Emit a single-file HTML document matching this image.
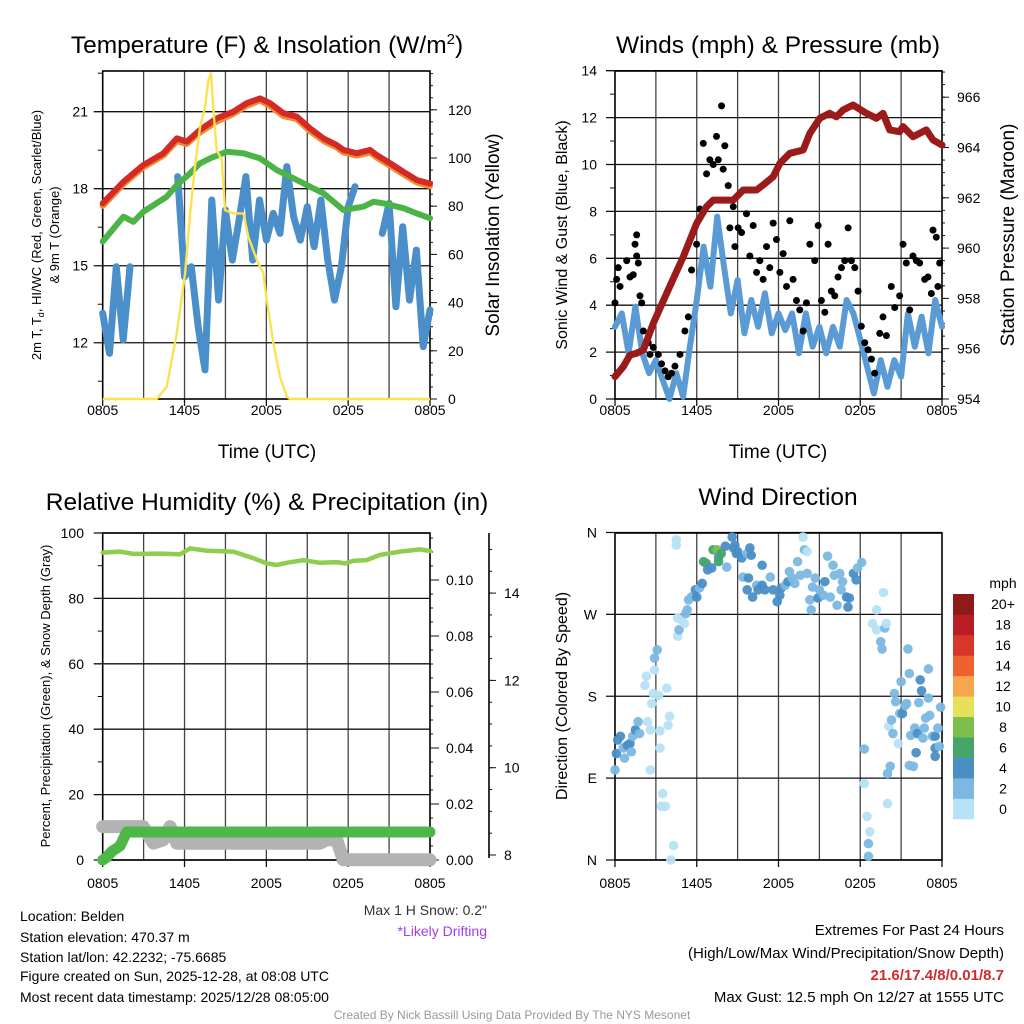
<!DOCTYPE html>
<html><head><meta charset="utf-8"><title>Mesonet Station Meteogram</title>
<style>
html,body{margin:0;padding:0;background:#fff;}
svg{display:block;font-family:"Liberation Sans",Arial,sans-serif;}
</style></head>
<body>
<svg id="c" width="1024" height="1024" viewBox="0 0 1024 1024" xmlns="http://www.w3.org/2000/svg">
<rect x="0" y="0" width="1024" height="1024" fill="#fff"/>
<g id="layers"></g>
<!-- Titles -->
<text x="267" y="53" font-size="24.5" text-anchor="middle">Temperature (F) &amp; Insolation (W/m<tspan font-size="15" dy="-9">2</tspan><tspan dy="9">)</tspan></text>
<text x="778" y="53" font-size="24.5" text-anchor="middle">Winds (mph) &amp; Pressure (mb)</text>
<text x="267" y="510" font-size="24.5" text-anchor="middle">Relative Humidity (%) &amp; Precipitation (in)</text>
<text x="778" y="505" font-size="24.5" text-anchor="middle">Wind Direction</text>
<!-- axis titles -->
<text transform="translate(41,235) rotate(-90)" font-size="13" text-anchor="middle">2m T, T<tspan font-size="9" dy="3">d</tspan><tspan dy="-3">, HI/WC (Red, Green, Scarlet/Blue)</tspan></text>
<text transform="translate(59,235) rotate(-90)" font-size="13" text-anchor="middle">&amp; 9m T (Orange)</text>
<text transform="translate(499,235) rotate(-90)" font-size="19" text-anchor="middle">Solar Insolation (Yellow)</text>
<text transform="translate(567,235) rotate(-90)" font-size="16" text-anchor="middle">Sonic Wind &amp; Gust (Blue, Black)</text>
<text transform="translate(1014,235) rotate(-90)" font-size="19" text-anchor="middle">Station Pressure (Maroon)</text>
<text transform="translate(50,696) rotate(-90)" font-size="13" text-anchor="middle">Percent, Precipitation (Green), &amp; Snow Depth (Gray)</text>
<text transform="translate(567,696) rotate(-90)" font-size="16" text-anchor="middle">Direction (Colored By Speed)</text>
<text x="267" y="458" font-size="19" text-anchor="middle">Time (UTC)</text>
<text x="778" y="458" font-size="19" text-anchor="middle">Time (UTC)</text>
<text x="1003" y="588" font-size="14" text-anchor="middle">mph</text>
<!-- bottom info -->
<text x="487" y="915" font-size="14" text-anchor="end" fill="#333">Max 1 H Snow: 0.2"</text>
<text x="487" y="936" font-size="14" text-anchor="end" fill="#a33cf0">*Likely Drifting</text>
<g font-size="14">
<text x="20" y="921">Location: Belden</text>
<text x="20" y="942">Station elevation: 470.37 m</text>
<text x="20" y="962">Station lat/lon: 42.2232; -75.6685</text>
<text x="20" y="981">Figure created on Sun, 2025-12-28, at 08:08 UTC</text>
<text x="20" y="1002">Most recent data timestamp: 2025/12/28 08:05:00</text>
</g>
<g font-size="15" text-anchor="end">
<text x="1004" y="935">Extremes For Past 24 Hours</text>
<text x="1004" y="958">(High/Low/Max Wind/Precipitation/Snow Depth)</text>
<text x="1004" y="980" font-weight="bold" fill="#d22b2b">21.6/17.4/8/0.01/8.7</text>
<text x="1004" y="1002">Max Gust: 12.5 mph On 12/27 at 1555 UTC</text>
</g>
<text x="512" y="1019" font-size="12" fill="#999" text-anchor="middle">Created By Nick Bassill Using Data Provided By The NYS Mesonet</text>
</svg>
<script>
// ---------- DATA ----------
const timeTickHours = [0, 6, 12, 18, 24];
const timeTickLabels = ["0805", "1405", "2005", "0205", "0805"];
const gridHours = [3, 6, 9, 12, 15, 18, 21];

const tempHours = [0,1.52,2.98,4.45,5.43,6.16,7.14,8.36,9.58,10.56,11.54,12.27,13.25,14.23,15.2,16.19,17.16,17.65,18.63,19.6,20.1,21.08,22.05,23.03,24];
const tempValues = [17.43,18.27,18.92,19.38,19.96,19.83,20.29,20.74,21.0,21.33,21.52,21.33,20.94,20.81,20.35,19.96,19.70,19.51,19.38,19.51,19.31,18.99,18.66,18.34,18.2];
const temp9mValues = [17.33,18.17,18.83,19.29,19.85,19.74,20.19,20.62,20.91,21.23,21.44,21.22,20.83,20.71,20.24,19.86,19.61,19.41,19.29,19.41,19.21,18.89,18.56,18.24,18.1];
const dewHours = [0,1.52,2.25,2.98,4.69,5.43,6.41,7.14,7.87,9.09,10.32,11.54,12.76,13.74,15.2,16.19,17.65,19.11,19.85,20.59,22.05,23.03,24];
const dewValues = [15.94,16.91,16.71,17.1,17.69,18.14,18.6,18.99,19.18,19.44,19.38,19.18,18.73,18.47,18.08,17.82,17.17,17.30,17.49,17.43,17.24,17.04,16.85];
const chillHours = [0,0.5,1,1.5,2,2.5,3,3.5,4,4.5,5,5.5,6,6.5,7,7.5,8,8.5,9,9.5,10,10.5,11,11.5,12,12.5,13,13.5,14,14.5,15,15.5,16,16.5,17,17.5,18,18.5,19,19.5,20,20.5,21,21.5,22,22.5,23,23.5,24];
const chillValues = [13.15,11.59,14.96,12.11,14.96,null,17.56,null,null,null,null,18.47,14.57,14.96,12.62,10.94,17.56,13.66,17.17,15.22,16.78,18.47,15.22,17.56,16.0,17.04,16.26,18.86,16.91,16.0,17.3,15.74,17.56,15.22,13.66,14.96,17.3,18.08,null,null,null,16.26,17.43,13.4,16.52,13.66,15.61,11.85,13.28];
const solarHours = [0,3.96,4.69,5.43,6.04,6.41,6.77,7.14,7.51,7.75,7.95,8.12,8.36,8.73,8.97,9.58,10.32,10.68,11.3,11.78,12.03,12.52,13.0,13.5,13.74,24];
const solarValues = [0,0,5.1,27.3,52.1,77,96.4,113,121.3,132.4,135.1,119.9,103.3,99.2,78.4,77,77,67.3,57.7,52.1,41.1,23.1,9.3,1,0,0];
const tempTicks = [12, 15, 18, 21];
const solarTicks = [0, 20, 40, 60, 80, 100, 120];

const presHours = [0,0.61,1.1,1.59,2.08,2.81,3.79,5.01,5.99,6.72,7.21,8.68,9.41,10.39,10.87,11.61,12.1,12.83,13.81,14.3,15.03,15.76,16.25,16.74,17.47,18.45,19.18,19.67,20.16,20.89,21.14,21.87,22.85,23.34,24];
const presValues = [954.89,955.29,955.75,955.82,955.95,957.01,958.2,959.66,960.98,961.65,961.91,961.91,962.31,962.31,962.51,962.84,963.37,963.77,963.9,964.56,965.16,965.36,965.22,965.49,965.69,965.36,965.16,965.36,964.7,964.63,964.83,964.43,964.7,964.3,964.1];
const windHours = [0,0.5,1,1.5,2,2.5,3,3.5,4,4.5,5,5.5,6,6.5,7,7.5,8,8.5,9,9.5,10,10.5,11,11.5,12,12.5,13,13.5,14,14.5,15,15.5,16,16.5,17,17.5,18,18.5,19,19.5,20,20.5,21,21.5,22,22.5,23,23.5,24];
const windValues = [3.08,3.65,1.95,3.94,1.95,1.1,1.66,0.81,0,1.1,0.1,2.23,4.22,6.5,4.79,7.78,5.64,3.65,5.07,2.8,4.22,3.08,4.51,2.8,3.65,2.94,3.65,1.95,3.65,2.23,3.08,1.95,3.08,2.23,4.22,3.65,2.52,1.38,0.24,1.66,0.52,1.66,0.95,3.65,2.23,3.51,1.95,4.22,3.08];
const gustHours = [0,0.12,0.24,0.37,0.86,1.1,1.34,1.47,1.59,1.59,1.71,1.83,1.96,2.08,2.44,2.57,2.81,3.18,3.42,3.67,3.91,4.15,4.4,4.77,5.13,5.38,5.62,5.74,5.99,6.23,6.48,6.72,6.96,7.21,7.45,7.58,7.82,7.94,8.06,8.31,8.43,8.68,8.8,9.04,9.29,9.65,9.9,10.14,10.39,10.63,10.87,11.12,11.36,11.61,11.85,12.1,12.34,12.59,12.83,13.07,13.32,13.56,13.81,14.05,14.3,14.66,14.91,15.15,15.4,15.64,15.88,16.13,16.37,16.62,16.86,17.11,17.35,17.6,17.84,18.08,18.33,18.57,18.82,19.06,19.43,19.67,19.92,20.28,20.53,20.89,21.14,21.38,21.63,21.87,22.12,22.36,22.73,22.97,23.22,23.34,23.58,23.7,23.83];
const gustValues = [4.1,5.1,5.6,4.8,5.9,5.2,5.3,6.6,6.1,7.0,5.8,4.4,4.1,2.9,2.4,1.9,2.2,1.9,1.5,1.2,0.95,1.1,1.4,1.9,2.9,3.5,5.5,7.1,6.6,8.1,10.9,9.6,10.2,10.0,11.2,10.2,12.5,9.8,10.8,9.1,7.3,8.2,6.5,7.3,7.1,7.9,6.1,7.4,5.4,5.9,5.1,6.5,5.6,7.5,6.8,5.4,6.2,4.8,7.6,5.1,4.2,3.8,2.9,4.1,6.6,5.9,7.4,4.2,3.7,6.6,4.6,4.4,5.2,5.6,5.9,7.3,5.9,5.6,4.6,3.1,2.4,2.1,1.7,1.1,2.8,3.5,2.7,4.8,3.9,4.4,6.6,5.8,3.8,6.1,5.9,5.8,5.1,5.2,4.5,7.2,6.9,4.8,5.8];
const windTicks = [0, 2, 4, 6, 8, 10, 12, 14];
const presTicks = [954, 956, 958, 960, 962, 964, 966];

const rhHours = [0,1.27,2.25,4.2,5.67,6.4,7.62,9.58,11.05,12.02,12.76,13.49,14.71,15.93,17.16,17.77,18.38,19.35,20.33,21.8,23.27,24];
const rhValues = [94.0,94.3,93.6,93.7,93.5,95.3,94.6,94.3,92.3,90.7,90.2,90.9,91.7,90.9,91.1,90.7,91.5,91.7,93.3,94.3,95.0,94.5];
const precipHours = [0,0.29,0.66,1.27,1.76,24];
const precipValues = [0,0.001,0.003,0.005,0.01,0.01];
const snowHours = [0,2.98,3.71,4.45,4.94,5.43,15.93,16.42,17.16,17.64,24];
const snowValues = [8.65,8.65,8.27,8.35,8.65,8.27,8.27,8.35,8.35,7.89,7.89];
const rhTicks = [0, 20, 40, 60, 80, 100];
const precipTicks = [0, 0.02, 0.04, 0.06, 0.08, 0.10];
const precipTickLabels = ["0.00", "0.02", "0.04", "0.06", "0.08", "0.10"];
const snowTicks = [8, 10, 12, 14];

const dirHours = [0,0.1,0.2,0.4,0.6,0.7,0.9,1.1,1.2,1.3,1.5,1.7,1.8,2.4,2.6,2.6,2.7,2.8,2.2,2.3,2.9,2.9,3.1,3.2,3.3,3.3,3.4,3.5,3.7,3.8,3.9,4.0,4.1,4.3,4.5,4.5,4.6,4.7,4.6,4.9,5.1,5.2,5.3,5.4,5.6,5.9,6.0,6.2,6.4,6.5,6.7,6.8,7.1,7.2,7.5,7.6,7.6,7.8,8.1,8.2,8.6,8.7,8.8,8.9,9.0,9.3,9.4,9.7,9.8,9.7,9.9,10.0,10.1,10.4,10.5,10.8,10.8,11.0,11.4,11.6,11.9,12.1,12.2,12.5,12.7,12.8,13.0,13.2,13.4,13.6,13.8,13.9,14.1,14.1,14.3,14.4,14.5,14.7,14.9,15.0,15.3,15.4,15.6,15.8,16.0,16.1,16.3,16.5,16.6,16.7,17.0,17.1,17.2,17.5,17.7,17.8,18.1,18.3,18.3,18.5,18.6,18.6,18.7,19.2,18.9,19.2,19.7,19.8,19.5,19.6,19.9,20.0,20.0,20.1,20.2,20.3,20.4,20.5,20.6,20.8,20.9,21.0,21.1,21.3,21.4,21.5,21.6,21.6,21.7,21.9,22.0,22.1,22.2,22.3,22.4,22.5,22.6,22.7,22.8,23.0,23.0,23.1,23.3,23.5,23.5,23.7,23.5,23.9,23.8];
const dirValues = [99,117,132,136,123,112,126,128,119,136,143,152,139,152,143,99,172,183,192,202,209,222,231,181,142,123,59,73,59,189,148,158,0,16,346,352,246,253,266,264,260,271,275,286,289,297,289,299,304,328,326,319,321,341,341,333,328,337,345,322,355,343,346,337,339,332,311,337,310,297,343,335,289,302,297,302,324,297,311,297,284,291,299,302,306,317,310,304,328,313,355,341,339,315,286,275,300,310,288,297,291,306,334,289,324,313,280,315,297,306,289,278,288,315,308,321,327,122,84,48,18,4,31,275,260,253,294,255,240,232,260,95,62,147,103,154,139,183,174,128,161,196,161,170,172,232,205,104,137,103,145,118,139,173,198,186,134,145,156,178,210,159,136,123,136,145,114,168,125];
const dirSpeeds = [3,4.5,4.5,4.5,3,3,4.5,4.5,3,3,4.5,3,3,1,1,1,1,1,1,1,1,3,3,1,1,1,1,1,1,1,1,1,1,1,1,1,1,3,1,1,1,3,3,3,3,4.5,4.5,3,4.5,6.5,6.5,4.5,4.5,7.5,8,4.5,6.5,6.5,4.5,3,4.5,4.5,4.5,4.5,4.5,4.5,3,3,4.5,4.5,4.5,4.5,4.5,3,4.5,4.5,4.5,4.5,3,4.5,4.5,4.5,4.5,3,4.5,3,3,3,3,3,1,3,1,3,3,3,3,3,4.5,3,3,4.5,3,3,3,3,3,3,3,3,4.5,4.5,4.5,4.5,4.5,3,3,3,1,1,3,3,1,1,1,1,1,3,3,3,1,3,1,1,3,3,3,3,3,1,3,3,4.5,3,3,3,3,3,3,3,3,4.5,4.5,3,4.5,4.5,3,3,3,3,3,3,3,4.5,4.5,3,4.5,3,3];
const dirTicks = [0, 90, 180, 270, 360];
const dirTickLabels = ["N", "E", "S", "W", "N"];
const speedBins = [0, 2, 4, 6, 8, 10, 12, 14, 16, 18, 20];
const speedLabels = ["0", "2", "4", "6", "8", "10", "12", "14", "16", "18", "20+"];
const speedColors = ["#b6e1f6", "#7cb8e2", "#4a8ec6", "#45a46a", "#7cbe4b", "#e6e05a", "#f5a64e", "#ee6230", "#d9362b", "#bb1d24", "#8f1a1a"];

// ---------- SCALES ----------
const L1 = 102.7, R1 = 430, T1 = 71, B1 = 399;
const L2 = 615, R2 = 942;
const T3 = 533, B3 = 860;
const x1 = h => L1 + h * (R1 - L1) / 24;
const x2 = h => L2 + h * (R2 - L2) / 24;
const yT = t => 111.7 + (21 - t) * 25.67;
const yI = v => 399 - v * 2.41;
const yW = w => 399 - w * 23.45;
const yP = p => 399 - (p - 954) * 25.15;
const yRH = r => 860 - r * 3.27;
const yPr = v => 860 - v * 2800;
const ySn = s => 855 - (s - 8) * 43.65;
const yD = d => 860 - d * 0.9097;

const NS = "http://www.w3.org/2000/svg";
const root = document.getElementById("layers");
function mk(tag, attrs, parent) {
  const e = document.createElementNS(NS, tag);
  for (const k in attrs) e.setAttribute(k, attrs[k]);
  (parent || root).appendChild(e);
  return e;
}
function pathD(hs, vs, fx, fy) {
  let d = "", pen = false;
  for (let i = 0; i < hs.length; i++) {
    if (vs[i] === null) { pen = false; continue; }
    d += (pen ? "L" : "M") + fx(hs[i]).toFixed(1) + "," + fy(vs[i]).toFixed(1);
    pen = true;
  }
  return d;
}

function drawFrame(L, R, T, B, yTicks, yFn, name) {
  const g = mk("g", {});
  
  
  gridHours.forEach(h => {
    const x = L + h * (R - L) / 24;
    const ln = mk("line", {x1: x, x2: x, y1: T, y2: B, stroke: "#444", "stroke-width": 1.3}, g);
    
    
  });
  yTicks.forEach(v => {
    const y = yFn(v);
    const ln = mk("line", {x1: L - 9, x2: R + 0, y1: y, y2: y, stroke: "#111", "stroke-width": 1.3}, g);
    
    
  });
  timeTickHours.forEach((h, i) => {
    const x = L + h * (R - L) / 24;
    const tk = mk("line", {x1: x, x2: x, y1: B, y2: B + 7, stroke: "#111", "stroke-width": 1.3}, g);
    
    
  });
  const fr = mk("rect", {x: L, y: T, width: R - L, height: B - T, fill: "none", stroke: "#000", "stroke-width": 1.6}, g);
  
  
}
function xLabels(L, R, y, name) {
  timeTickHours.forEach((h, i) => {
    const t = mk("text", {x: L + h * (R - L) / 24, y: y, "font-size": 14, "text-anchor": "middle"});
    
    
    t.textContent = timeTickLabels[i];
  });
}
function yLabels(ticks, labels, yFn, x, anchor, name) {
  ticks.forEach((v, i) => {
    const t = mk("text", {x: x, y: yFn(v) + 5, "font-size": 14, "text-anchor": anchor});
    
    
    t.textContent = labels ? labels[i] : String(v);
  });
}
function minorTicks(vals, yFn, x, len, name) {
  vals.forEach(v => {
    const ln = mk("line", {x1: x, x2: x + len, y1: yFn(v), y2: yFn(v), stroke: "#111", "stroke-width": 1});
    
    
  });
}
function range(a, b, s) { const r = []; for (let v = a; v <= b + 1e-9; v += s) r.push(+v.toFixed(4)); return r; }

// ---------- PANEL 1 ----------
drawFrame(L1, R1, T1, B1, tempTicks, yT, "temperature");
minorTicks([10.5, 13.5, 16.5, 19.5, 22.5], yT, L1 - 5, 5, "temperature-minor");
minorTicks(range(0, 135, 5), yI, R1, 3, "insolation-minor");
minorTicks(solarTicks, yI, R1, 7, "insolation-major");
yLabels(tempTicks, null, yT, 88, "end", "temperature-y");
yLabels(solarTicks, null, yI, 448, "start", "insolation-y");
xLabels(L1, R1, 415, "temperature");

let p;
p = mk("path", {d: pathD(chillHours, chillValues, x1, yT), fill: "none", stroke: "#4a8fc9", "stroke-width": 7, "stroke-linejoin": "round", "stroke-linecap": "round"});


p = mk("path", {d: pathD(dewHours, dewValues, x1, yT), fill: "none", stroke: "#4cb447", "stroke-width": 6, "stroke-linejoin": "round", "stroke-linecap": "round"});


p = mk("path", {d: pathD(tempHours, temp9mValues, x1, yT), fill: "none", stroke: "#f28a30", "stroke-width": 6, "stroke-linejoin": "round", "stroke-linecap": "round"});


p = mk("path", {d: pathD(tempHours, tempValues, x1, yT), fill: "none", stroke: "#d42a26", "stroke-width": 6, "stroke-linejoin": "round", "stroke-linecap": "round"});


p = mk("path", {d: pathD(solarHours, solarValues, x1, yI), fill: "none", stroke: "#fde24f", "stroke-width": 2.4, "stroke-linejoin": "round"});



// ---------- PANEL 2 ----------
drawFrame(L2, R2, T1, B1, windTicks, yW, "winds");
minorTicks([1, 3, 5, 7, 9, 11, 13], yW, L2 - 5, 5, "wind-minor");
minorTicks(range(954, 967, 0.5), yP, R2, 3, "pressure-minor");
minorTicks(presTicks, yP, R2, 7, "pressure-major");
yLabels(windTicks, null, yW, 597, "end", "wind-y");
yLabels(presTicks, null, yP, 957, "start", "pressure-y");
xLabels(L2, R2, 415, "winds");

p = mk("path", {d: pathD(windHours, windValues, x2, yW), fill: "none", stroke: "#5a9bd5", "stroke-width": 6, "stroke-linejoin": "round", "stroke-linecap": "round"});


const gustG = mk("g", {fill: "#000"});


for (let i = 0; i < Math.min(gustHours.length, gustValues.length); i++) {
  const c = mk("circle", {cx: x2(gustHours[i]), cy: yW(gustValues[i]), r: 3.5}, gustG);
  
  
}
p = mk("path", {d: pathD(presHours, presValues, x2, yP), fill: "none", stroke: "#9b1b1b", "stroke-width": 7, "stroke-linejoin": "round", "stroke-linecap": "round"});



// ---------- PANEL 3 ----------
drawFrame(L1, R1, T3, B3, rhTicks, yRH, "humidity");
minorTicks([10, 30, 50, 70, 90], yRH, L1 - 5, 5, "humidity-minor");
minorTicks(range(0, 0.115, 0.005), yPr, R1, 3, "precip-minor");
minorTicks(precipTicks, yPr, R1, 9, "precip-major");
yLabels(rhTicks, null, yRH, 84, "end", "humidity-y");
yLabels(precipTicks, precipTickLabels, yPr, 446, "start", "precip-y");
const sAx = mk("line", {x1: 489, x2: 489, y1: T3, y2: 858, stroke: "#000", "stroke-width": 1.6});


minorTicks(range(8, 15.2, 0.5), ySn, 489, 3, "snow-minor");
minorTicks(snowTicks, ySn, 489, 7, "snow-major");
yLabels(snowTicks, null, ySn, 504, "start", "snow-y");
xLabels(L1, R1, 888, "humidity");

p = mk("path", {d: pathD(snowHours, snowValues, x1, ySn), fill: "none", stroke: "#b3b3b3", "stroke-width": 13, "stroke-linejoin": "round", "stroke-linecap": "round"});


p = mk("path", {d: pathD(precipHours, precipValues, x1, yPr), fill: "none", stroke: "#4db848", "stroke-width": 11, "stroke-linejoin": "round", "stroke-linecap": "round"});


p = mk("path", {d: pathD(rhHours, rhValues, x1, yRH), fill: "none", stroke: "#8fcd50", "stroke-width": 4.5, "stroke-linejoin": "round", "stroke-linecap": "round"});



// ---------- PANEL 4 ----------
drawFrame(L2, R2, T3, B3, dirTicks, yD, "direction");
yLabels(dirTicks, dirTickLabels, yD, 597, "end", "direction-y");
xLabels(L2, R2, 888, "direction");
function speedColor(s) {
  let idx = 0;
  for (let i = 0; i < speedBins.length; i++) if (s >= speedBins[i]) idx = i;
  return speedColors[idx];
}
const dirG = mk("g", {});


for (let i = 0; i < Math.min(dirHours.length, dirValues.length, dirSpeeds.length); i++) {
  const c = mk("circle", {cx: x2(dirHours[i]), cy: yD(dirValues[i]), r: 4.8, fill: speedColor(dirSpeeds[i]), "fill-opacity": 0.95}, dirG);
  
  
}
// colorbar
const cbTop = 594, cbBot = 819, boxH = (cbBot - cbTop) / speedBins.length;
speedBins.forEach((s, i) => {
  const y = cbBot - (i + 1) * boxH;
  const r = mk("rect", {x: 953, y: y, width: 21, height: boxH + 0.3, fill: speedColors[i]});
  
  
  const t = mk("text", {x: 1003, y: y + boxH / 2 + 5, "font-size": 14, "text-anchor": "middle"});
  
  
  t.textContent = speedLabels[i];
});
</script>
</body></html>
